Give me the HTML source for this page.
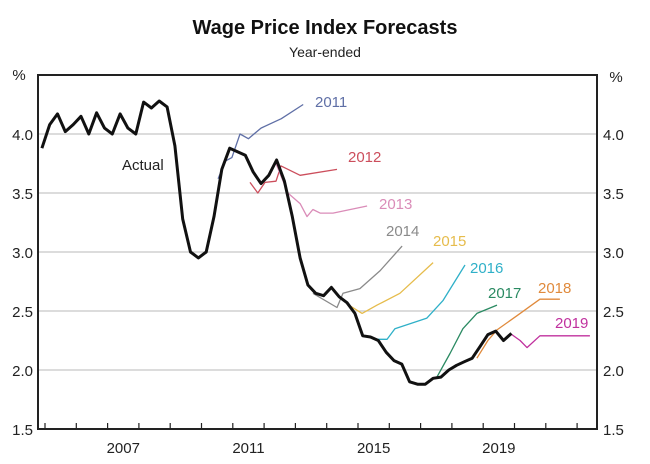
<!DOCTYPE html>
<html><head><meta charset="utf-8"><style>
body{margin:0;background:#fff;}
svg{display:block;font-family:"Liberation Sans",sans-serif;}
</style></head><body>
<svg id="c" width="650" height="464">
<text x="325" y="34" text-anchor="middle" font-size="20" font-weight="bold" fill="#111">Wage Price Index Forecasts</text>
<text x="325" y="57" text-anchor="middle" font-size="14" fill="#222">Year-ended</text>
<text x="19" y="80" text-anchor="middle" font-size="15" fill="#222">%</text>
<text x="616" y="82" text-anchor="middle" font-size="15" fill="#222">%</text>
<g id="grid"></g><g id="series"></g><g id="axes"></g>
</svg>
<script>
const yTicks=[1.5,2.0,2.5,3.0,3.5,4.0];
const xYearLabels=[2007,2011,2015,2019];
const actualStart=2004.9;
const actualValues=[3.88,4.08,4.17,4.02,4.08,4.15,4.0,4.18,4.05,4.0,4.17,4.05,4.0,4.27,4.22,4.28,4.23,3.9,3.28,3.0,2.95,3.0,3.3,3.7,3.88,3.85,3.82,3.68,3.58,3.65,3.78,3.6,3.3,2.95,2.72,2.65,2.63,2.7,2.62,2.57,2.48,2.29,2.28,2.25,2.15,2.08,2.05,1.9,1.88,1.88,1.93,1.94,2.0,2.04,2.07,2.1,2.2,2.3,2.33,2.25,2.31];
const f2011Years=[2010.53,2010.76,2010.97,2011.23,2011.5,2011.9,2012.55,2013.25];
const f2011Vals=[3.62,3.77,3.8,4.0,3.96,4.05,4.13,4.25];
const f2012Years=[2011.55,2011.8,2012.03,2012.38,2012.54,2013.15,2014.33];
const f2012Vals=[3.59,3.5,3.59,3.6,3.73,3.65,3.7];
const f2013Years=[2012.38,2012.76,2013.15,2013.37,2013.56,2013.79,2014.2,2015.29];
const f2013Vals=[3.75,3.5,3.41,3.3,3.36,3.33,3.33,3.39];
const f2014Years=[2013.56,2014.33,2014.52,2015.06,2015.7,2016.41];
const f2014Vals=[2.65,2.53,2.65,2.69,2.84,3.05];
const f2015Years=[2014.65,2015.13,2015.61,2016.34,2017.4];
const f2015Vals=[2.56,2.48,2.55,2.65,2.91];
const f2016Years=[2015.61,2015.93,2016.18,2017.2,2017.72,2018.42];
const f2016Vals=[2.26,2.26,2.35,2.44,2.59,2.89];
const f2017Years=[2017.52,2017.94,2018.35,2018.8,2019.44];
const f2017Vals=[1.94,2.14,2.35,2.48,2.55];
const f2018Years=[2018.8,2019.15,2019.44,2020.08,2020.81,2021.45];
const f2018Vals=[2.1,2.25,2.34,2.46,2.6,2.6];
const f2019Years=[2019.86,2020.18,2020.4,2020.81,2022.41];
const f2019Vals=[2.31,2.25,2.19,2.29,2.29];

const L=38,R=597,T=75,B=429;
const x=t=>358+(t-2015)*31.3;
const y=v=>B-(v-1.5)*118;
const NS='http://www.w3.org/2000/svg';
function mk(tag,attrs,parent,text){const e=document.createElementNS(NS,tag);for(const k in attrs)e.setAttribute(k,attrs[k]);if(text!==undefined)e.textContent=text;parent.appendChild(e);return e;}
const grid=document.getElementById('grid'),ser=document.getElementById('series'),ax=document.getElementById('axes');
yTicks.forEach(v=>{
  if(v>1.5){const g=mk('line',{x1:L,x2:R,y1:y(v),y2:y(v),stroke:'#c8c8c8','stroke-width':1.2},grid);
  
  }
  const a=mk('text',{x:33,y:y(v)+6,'text-anchor':'end','font-size':15,fill:'#222'},ax,v.toFixed(1));
  
  
  const b=mk('text',{x:603,y:y(v)+6,'font-size':15,fill:'#222'},ax,v.toFixed(1));
  
  
});
for(let yr=2005;yr<=2022;yr++){const tk=mk('line',{x1:x(yr),x2:x(yr),y1:B,y2:B-6,stroke:'#222','stroke-width':1.2},ax);
  
  }
xYearLabels.forEach(yr=>{const t=mk('text',{x:x(yr+0.5),y:453,'text-anchor':'middle','font-size':15,fill:'#222'},ax,String(yr));
  
  });
const frame=mk('rect',{x:L,y:T,width:R-L,height:B-T,fill:'none',stroke:'#222','stroke-width':2},ax);


function line(years,vals,color,w,name){
  const d=years.map((t,i)=>(i?'L':'M')+x(t).toFixed(1)+' '+y(vals[i]).toFixed(1)).join(' ');
  const p=mk('path',{d:d,fill:'none',stroke:color,'stroke-width':w,'stroke-linejoin':'round'},ser);
  
  
}
const fc=[[f2011Years,f2011Vals,'#5f6fa6','2011',315,107],[f2012Years,f2012Vals,'#cc4e5c','2012',348,162],[f2013Years,f2013Vals,'#da8cb8','2013',379,209],[f2014Years,f2014Vals,'#8a8a8a','2014',386,236],[f2015Years,f2015Vals,'#e6bc4c','2015',433,246],[f2016Years,f2016Vals,'#2fb0c8','2016',470,273],[f2017Years,f2017Vals,'#2a8a62','2017',488,298],[f2018Years,f2018Vals,'#e08a3c','2018',538,293],[f2019Years,f2019Vals,'#c0309e','2019',555,328]];
fc.forEach(f=>{line(f[0],f[1],f[2],1.3,'forecast-'+f[3]+'-line');
  const t=mk('text',{x:f[4],y:f[5],'font-size':15,fill:f[2]},ser,f[3]);
  
  });
const actualYears=actualValues.map((v,i)=>actualStart+i*0.25);
line(actualYears,actualValues,'#111',3,'actual-line');
const al=mk('text',{x:122,y:170,'font-size':15,fill:'#222'},ser,'Actual');


</script>
</body></html>
